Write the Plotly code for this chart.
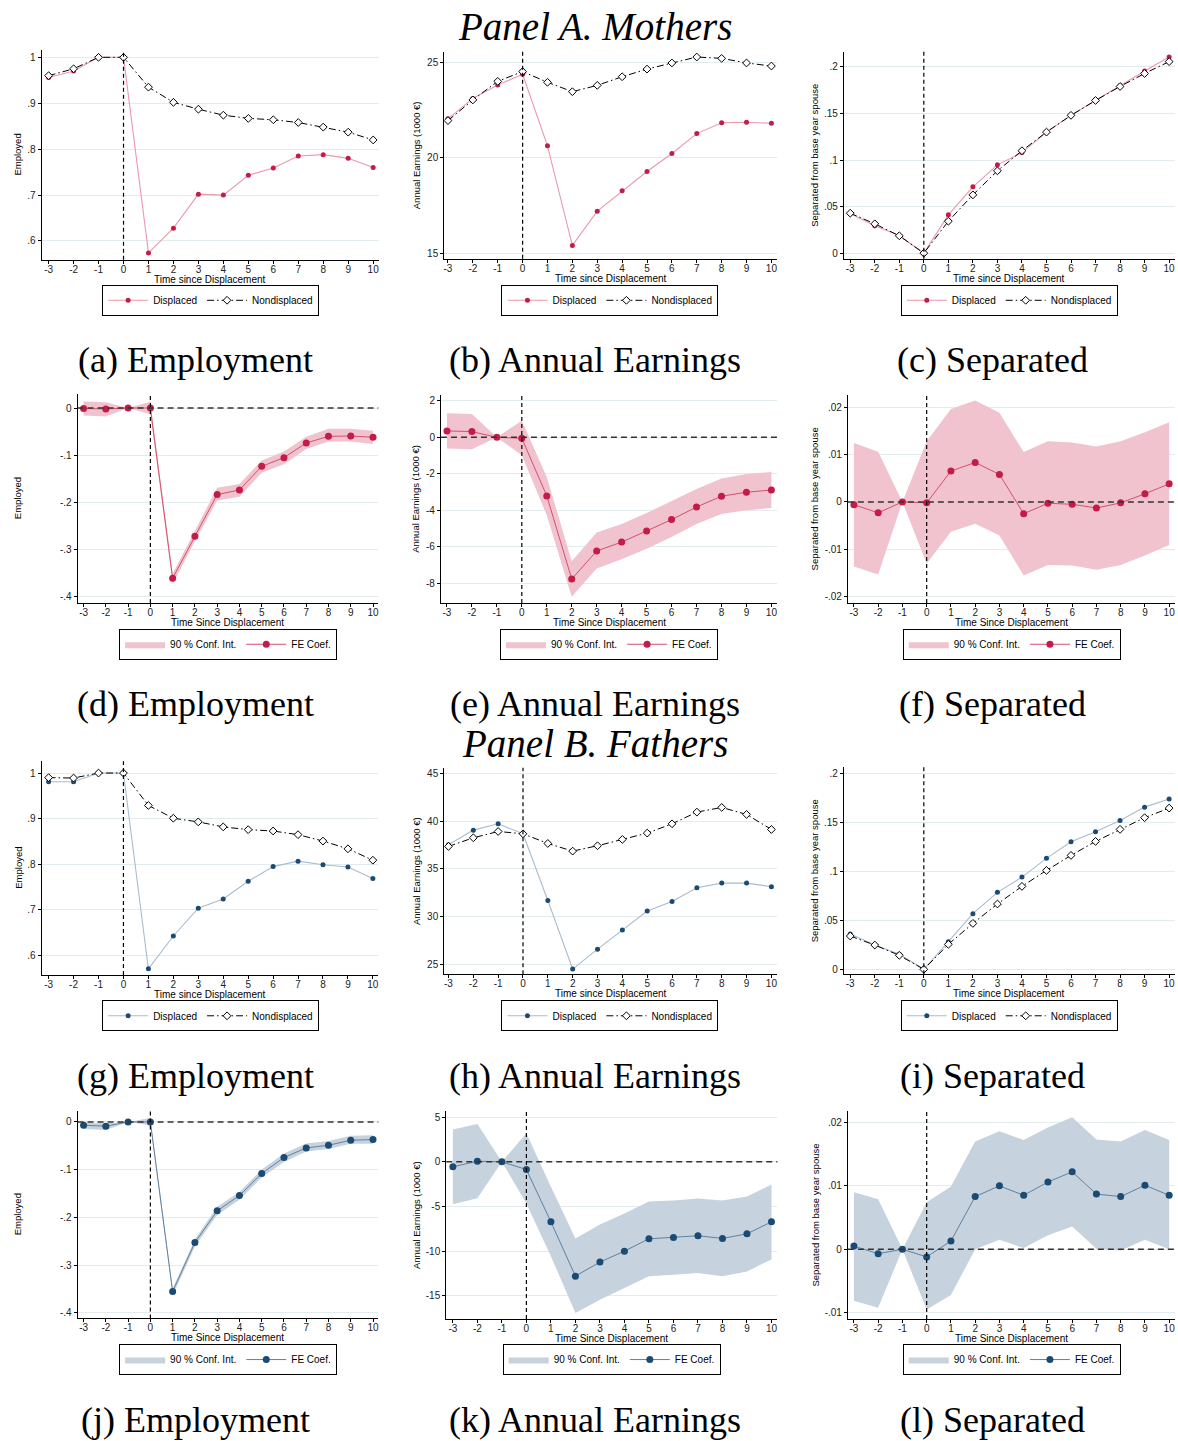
import plotly.graph_objects as go

W, H = 1178, 1441
t = list(range(-3, 11))

# ---------------- Panel A. Mothers ----------------
a_disp = [0.956, 0.970, 1.0, 1.0, 0.574, 0.628, 0.702, 0.700, 0.743, 0.759, 0.785, 0.788, 0.780, 0.760]
a_nond = [0.960, 0.975, 1.0, 1.0, 0.935, 0.902, 0.887, 0.874, 0.867, 0.864, 0.858, 0.848, 0.837, 0.820]
b_disp = [22.03, 23.10, 23.80, 24.36, 20.62, 15.42, 17.21, 18.27, 19.28, 20.22, 21.26, 21.83, 21.85, 21.80]
b_nond = [21.94, 23.02, 23.99, 24.50, 23.94, 23.45, 23.78, 24.23, 24.63, 24.95, 25.26, 25.19, 24.95, 24.79]
c_disp = [0.0426, 0.0293, 0.0190, 0.0, 0.0411, 0.0712, 0.0948, 0.1080, 0.1300, 0.1480, 0.1640, 0.1800, 0.1957, 0.2107]
c_nond = [0.0429, 0.0315, 0.0186, 0.0, 0.0343, 0.0626, 0.0884, 0.1100, 0.1300, 0.1480, 0.1640, 0.1790, 0.1930, 0.2057]

d_coef = [-0.001, -0.002, 0.0, 0.0, -0.3605, -0.2716, -0.1834, -0.1735, -0.1235, -0.1051, -0.0741, -0.0600, -0.0593, -0.0620]
d_hi = [0.014, 0.012, 0.0, 0.013, -0.351, -0.261, -0.169, -0.161, -0.111, -0.092, -0.061, -0.044, -0.044, -0.048]
d_lo = [-0.016, -0.018, 0.0, -0.013, -0.372, -0.282, -0.196, -0.188, -0.137, -0.119, -0.087, -0.071, -0.071, -0.076]
e_coef = [0.347, 0.31, 0.0, -0.055, -3.21, -7.76, -6.23, -5.74, -5.13, -4.51, -3.82, -3.23, -3.01, -2.89]
e_hi = [1.31, 1.28, 0.0, 0.91, -2.17, -6.79, -5.22, -4.75, -4.15, -3.51, -2.83, -2.26, -2.01, -1.90]
e_lo = [-0.62, -0.66, 0.0, -0.99, -4.27, -8.73, -7.18, -6.68, -6.10, -5.46, -4.75, -4.20, -4.00, -3.87]
f_coef = [-0.0006, -0.0023, 0.0, -0.0002, 0.0065, 0.0083, 0.0058, -0.0025, -0.0003, -0.0005, -0.0013, -0.0002, 0.0017, 0.0038]
f_hi = [0.0124, 0.0106, 0.0, 0.0128, 0.0196, 0.0214, 0.0188, 0.0105, 0.0128, 0.0125, 0.0117, 0.0128, 0.0147, 0.0168]
f_lo = [-0.0136, -0.0153, 0.0, -0.0130, -0.0063, -0.0046, -0.0071, -0.0155, -0.0133, -0.0134, -0.0143, -0.0133, -0.0113, -0.0091]

# ---------------- Panel B. Fathers ----------------
g_disp = [0.981, 0.981, 1.0, 1.0, 0.571, 0.643, 0.704, 0.724, 0.763, 0.795, 0.807, 0.799, 0.794, 0.769]
g_nond = [0.990, 0.989, 1.0, 1.0, 0.929, 0.901, 0.893, 0.882, 0.876, 0.873, 0.865, 0.851, 0.834, 0.809]
h_disp = [37.52, 39.05, 39.71, 38.67, 31.71, 24.55, 26.63, 28.62, 30.60, 31.61, 33.03, 33.52, 33.52, 33.14]
h_nond = [37.35, 38.25, 38.91, 38.67, 37.66, 36.86, 37.42, 38.08, 38.74, 39.71, 40.93, 41.42, 40.69, 39.12]
i_disp = [0.0360, 0.0248, 0.0153, 0.0, 0.0282, 0.0568, 0.0786, 0.0942, 0.1133, 0.1303, 0.1405, 0.1520, 0.1656, 0.1738]
i_nond = [0.0340, 0.0248, 0.0143, 0.0, 0.0255, 0.0469, 0.0667, 0.0847, 0.1010, 0.1163, 0.1306, 0.1429, 0.1548, 0.1646]

j_coef = [-0.007, -0.009, 0.0, 0.0, -0.3553, -0.2527, -0.1864, -0.1543, -0.1082, -0.0747, -0.0545, -0.0489, -0.0384, -0.0370]
j_hi = [-0.0014, -0.003, 0.0, 0.008, -0.349, -0.246, -0.178, -0.147, -0.0998, -0.066, -0.045, -0.040, -0.029, -0.028]
j_lo = [-0.015, -0.017, 0.0, -0.007, -0.364, -0.261, -0.195, -0.163, -0.1166, -0.084, -0.062, -0.057, -0.046, -0.046]
k_coef = [-0.56, 0.07, 0.0, -0.86, -6.72, -12.80, -11.23, -10.00, -8.62, -8.47, -8.28, -8.58, -8.06, -6.72]
k_hi = [3.62, 4.25, 0.0, 3.21, -2.80, -8.58, -7.01, -5.78, -4.44, -4.33, -4.10, -4.33, -3.88, -2.54]
k_lo = [-4.74, -4.07, 0.0, -4.66, -10.56, -16.94, -15.45, -14.14, -12.80, -12.65, -12.46, -12.80, -12.28, -10.93]
l_coef = [0.0005, -0.0007, 0.0, -0.0012, 0.0013, 0.0083, 0.0100, 0.0085, 0.0106, 0.0122, 0.0087, 0.0083, 0.0101, 0.0085]
l_hi = [0.0090, 0.0079, 0.0, 0.0074, 0.0099, 0.0170, 0.0186, 0.0172, 0.0192, 0.0208, 0.0173, 0.0170, 0.0188, 0.0172]
l_lo = [-0.0081, -0.0092, 0.0, -0.0095, -0.0072, 0.0000, 0.0015, 0.0002, 0.0022, 0.0036, 0.0001, -0.0002, 0.0015, 0.0000]

# tick labels
emp_ticks = [0.6, 0.7, 0.8, 0.9, 1.0]
emp_text = [".6", ".7", ".8", ".9", "1"]
earnA_ticks = [15, 20, 25]
sep_ticks = [0, 0.05, 0.1, 0.15, 0.2]
sep_text = ["0", ".05", ".1", ".15", ".2"]
empc_ticks = [-0.4, -0.3, -0.2, -0.1, 0]
empc_text = ["-.4", "-.3", "-.2", "-.1", "0"]
earnAc_ticks = [-8, -6, -4, -2, 0, 2]
sepAc_ticks = [-0.02, -0.01, 0, 0.01, 0.02]
sepAc_text = ["-.02", "-.01", "0", ".01", ".02"]
earnB_ticks = [25, 30, 35, 40, 45]
earnBc_ticks = [-15, -10, -5, 0, 5]
sepBc_ticks = [-0.01, 0, 0.01, 0.02]
sepBc_text = ["-.01", "0", ".01", ".02"]

captions = ["(a) Employment", "(b) Annual Earnings", "(c) Separated",
            "(d) Employment", "(e) Annual Earnings", "(f) Separated",
            "(g) Employment", "(h) Annual Earnings", "(i) Separated",
            "(j) Employment", "(k) Annual Earnings", "(l) Separated"]
ytitles = ["Employed", "Annual Earnings (1000 €)", "Separated from base year spouse"]

# styles
RED_M, RED_L, RED_CL, RED_F = "#c51b48", "#e99aab", "#d4506c", "#f0c3cf"
BLU_M, BLU_L, BLU_CL, BLU_F = "#1b4a72", "#a8bccf", "#5f819f", "#c6d2dd"
SANS = "Liberation Sans"
SERIF = "Liberation Serif"

# panel layout (pixels): left, right, top, bottom, xrange, yrange
panels = [
    dict(kind="raw", d=a_disp, n=a_nond, col="A", box=(40.7, 378.3, 50, 260), xr=[-3.28, 10.22], yr=[0.559, 1.016], tv=emp_ticks, tt=emp_text, leg=(210, 300.5)),
    dict(kind="raw", d=b_disp, n=b_nond, col="A", box=(444, 777.7, 51.7, 259), xr=[-3.15, 10.24], yr=[14.72, 25.54], tv=earnA_ticks, tt=[str(v) for v in earnA_ticks], leg=(610, 300.5)),
    dict(kind="raw", d=c_disp, n=c_nond, col="A", box=(844.3, 1176, 51.7, 259), xr=[-3.26, 10.24], yr=[-0.0061, 0.2164], tv=sep_ticks, tt=sep_text, leg=(1010, 300.5)),
    dict(kind="fe", c=d_coef, hi=d_hi, lo=d_lo, col="A", box=(76.7, 378, 394.3, 603.3), xr=[-3.27, 10.24], yr=[-0.4127, 0.0296], tv=empc_ticks, tt=empc_text, leg=(227.5, 644.7)),
    dict(kind="fe", c=e_coef, hi=e_hi, lo=e_lo, col="A", box=(440.7, 777.7, 395, 603.3), xr=[-3.24, 10.24], yr=[-9.07, 2.33], tv=earnAc_ticks, tt=[str(v) for v in earnAc_ticks], leg=(609, 644.7)),
    dict(kind="fe", c=f_coef, hi=f_hi, lo=f_lo, col="A", box=(848.3, 1176, 395, 603.3), xr=[-3.25, 10.24], yr=[-0.0213, 0.0226], tv=sepAc_ticks, tt=sepAc_text, leg=(1012.5, 644.7)),
    dict(kind="raw", d=g_disp, n=g_nond, col="B", box=(40.7, 378, 761.7, 975.7), xr=[-3.28, 10.22], yr=[0.5575, 1.026], tv=emp_ticks, tt=emp_text, leg=(210, 1016.5)),
    dict(kind="raw", d=h_disp, n=h_nond, col="B", box=(444, 777.7, 768.3, 975), xr=[-3.17, 10.24], yr=[24.0, 45.56], tv=earnB_ticks, tt=[str(v) for v in earnB_ticks], leg=(610, 1016.5)),
    dict(kind="raw", d=i_disp, n=i_nond, col="B", box=(844.3, 1176, 767.7, 975), xr=[-3.26, 10.24], yr=[-0.0051, 0.2064], tv=sep_ticks, tt=sep_text, leg=(1010, 1016.5)),
    dict(kind="fe", c=j_coef, hi=j_hi, lo=j_lo, col="B", box=(76.7, 378, 1111.7, 1319.3), xr=[-3.27, 10.24], yr=[-0.4117, 0.023], tv=empc_ticks, tt=empc_text, leg=(227.5, 1360.5)),
    dict(kind="fe", c=k_coef, hi=k_hi, lo=k_lo, col="B", box=(446, 777.7, 1111.7, 1320), xr=[-3.27, 10.24], yr=[-17.61, 5.7], tv=earnBc_ticks, tt=[str(v) for v in earnBc_ticks], leg=(611.7, 1360.5)),
    dict(kind="fe", c=l_coef, hi=l_hi, lo=l_lo, col="B", box=(848.3, 1176, 1111.7, 1320), xr=[-3.25, 10.24], yr=[-0.0110, 0.0218], tv=sepBc_ticks, tt=sepBc_text, leg=(1012.5, 1360.5)),
]
ytitle_x = [16.7, 415.7, 815]
cap_x = [195, 595, 993]
cap_y = [360, 704, 1077, 1421]

def px(x):
    return x / W

def py(y):
    return 1 - y / H

fig = go.Figure()
layout = dict(width=W, height=H, margin=dict(l=0, r=0, t=0, b=0),
              paper_bgcolor="white", plot_bgcolor="white", showlegend=True,
              font=dict(family=SANS, size=10, color="black"))
annotations = []
shapes = []

for k, p in enumerate(panels):
    idx = k + 1
    sfx = "" if idx == 1 else str(idx)
    xa, ya = "x" + sfx, "y" + sfx
    lg = "legend" + sfx
    L, R, T, B = p["box"]
    mc, lc, clc, fc = (RED_M, RED_L, RED_CL, RED_F) if p["col"] == "A" else (BLU_M, BLU_L, BLU_CL, BLU_F)

    if p["kind"] == "raw":
        fig.add_trace(go.Scatter(x=t, y=p["d"], xaxis=xa, yaxis=ya, legend=lg, name="Displaced",
                                 mode="lines+markers", line=dict(color=lc, width=1.1),
                                 marker=dict(color=mc, size=5)))
        fig.add_trace(go.Scatter(x=t, y=p["n"], xaxis=xa, yaxis=ya, legend=lg, name="Nondisplaced",
                                 mode="lines+markers", line=dict(color="black", width=1, dash="7px,3px,1.5px,3px"),
                                 marker=dict(symbol="diamond", color="white", size=6, line=dict(color="black", width=1))))
    else:
        fig.add_trace(go.Scatter(x=t, y=p["lo"], xaxis=xa, yaxis=ya, legend=lg, showlegend=False,
                                 mode="lines", line=dict(width=0, color=fc), hoverinfo="skip"))
        fig.add_trace(go.Scatter(x=t, y=p["hi"], xaxis=xa, yaxis=ya, legend=lg, name="90 % Conf. Int.",
                                 mode="lines", line=dict(width=0, color=fc), fill="tonexty", fillcolor=fc))
        fig.add_trace(go.Scatter(x=t, y=p["c"], xaxis=xa, yaxis=ya, legend=lg, name="FE Coef.",
                                 mode="lines+markers", line=dict(color=clc, width=1),
                                 marker=dict(color=mc, size=7)))
        shapes.append(dict(type="line", xref=xa + " domain", yref=ya, x0=0, x1=1, y0=0, y1=0,
                           line=dict(color="#333333", width=1.5, dash="6px,4px"), layer="above"))

    shapes.append(dict(type="line", xref=xa, yref=ya + " domain", x0=0, x1=0, y0=0, y1=1,
                       line=dict(color="black", width=1.2, dash="4px,3px"), layer="above"))

    layout["xaxis" + sfx] = dict(domain=[px(L), px(R)], range=p["xr"], anchor=ya,
                                 tickmode="array", tickvals=t, ticktext=[str(v) for v in t],
                                 showline=True, linecolor="black", linewidth=1, ticks="outside",
                                 ticklen=3, tickcolor="black", showgrid=False, zeroline=False,
                                 ticklabelstandoff=-3,
                                 tickfont=dict(family=SANS, size=10, color="#222"), fixedrange=True)
    layout["yaxis" + sfx] = dict(domain=[py(B), py(T)], range=p["yr"], anchor=xa,
                                 tickmode="array", tickvals=p["tv"], ticktext=p["tt"],
                                 showline=True, linecolor="black", linewidth=1, ticks="outside",
                                 ticklen=3, tickcolor="black", showgrid=True, gridcolor="#e2ecee",
                                 gridwidth=1, zeroline=False,
                                 tickfont=dict(family=SANS, size=10, color="#222"), fixedrange=True)
    lx, ly = p["leg"]
    layout[lg] = dict(x=px(lx), y=py(ly), xanchor="center", yanchor="middle", orientation="h",
                      bordercolor="black", borderwidth=1, bgcolor="white",
                      font=dict(family=SANS, size=10, color="black"),
                      itemwidth=40, traceorder="normal",
                      tracegroupgap=0, itemclick=False, itemdoubleclick=False)

    # axis titles
    xtitle = "Time since Displacement" if p["kind"] == "raw" else "Time Since Displacement"
    annotations.append(dict(x=px((L + R) / 2), y=py(B + 19.5), xref="paper", yref="paper",
                            text=xtitle, showarrow=False, xanchor="center", yanchor="middle",
                            font=dict(family=SANS, size=10, color="black")))
    colpos = k % 3
    annotations.append(dict(x=px(ytitle_x[colpos]), y=py((T + B) / 2), xref="paper", yref="paper",
                            text=ytitles[colpos], showarrow=False, textangle=-90,
                            xanchor="center", yanchor="middle",
                            font=dict(family=SANS, size=9.5, color="black")))
    # caption
    annotations.append(dict(x=px(cap_x[colpos]), y=py(cap_y[k // 3]), xref="paper", yref="paper",
                            text=captions[k], showarrow=False, xanchor="center", yanchor="middle",
                            font=dict(family=SERIF, size=36, color="black")))

annotations.append(dict(x=px(595), y=py(27), xref="paper", yref="paper", text="<i>Panel A. Mothers</i>",
                        showarrow=False, xanchor="center", yanchor="middle",
                        font=dict(family=SERIF, size=39, color="black")))
annotations.append(dict(x=px(595), y=py(744), xref="paper", yref="paper", text="<i>Panel B. Fathers</i>",
                        showarrow=False, xanchor="center", yanchor="middle",
                        font=dict(family=SERIF, size=39, color="black")))

layout["annotations"] = annotations
layout["shapes"] = shapes
fig.update_layout(**layout)
fig.write_html("out.html", config={"displayModeBar": False},
               post_script="document.body.style.margin='0px';document.body.style.overflow='hidden';")
